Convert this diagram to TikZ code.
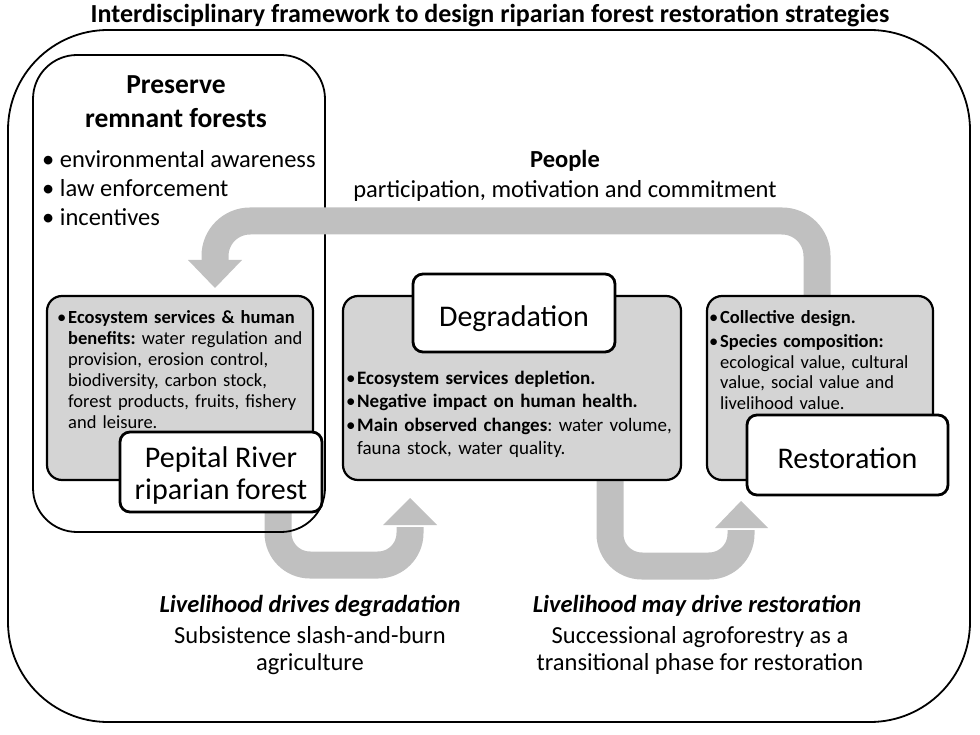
\documentclass[tikz,border=0pt]{standalone}
\usepackage{fontspec}
\setmainfont{Carlito}
\frenchspacing
\definecolor{boxgrau}{RGB}{212,212,212}
\definecolor{pfeilgrau}{RGB}{192,192,192}
\tikzset{
	rahmen/.style={draw, line width=1.8pt, rounded corners=#1, inner sep=0pt},
	grau/.style={draw, line width=2.2pt, fill=boxgrau, rounded corners=15pt, inner sep=0pt},
	titel/.style={draw, line width=2.8pt, fill=white, rounded corners=10pt, inner sep=0pt, align=center, font=\fontsize{30}{32}\selectfont},
	pfeil/.style={draw=pfeilgrau, line width=27pt, rounded corners=#1},
	spitze/.style={fill=pfeilgrau},
	liste/.style={anchor=north west, inner sep=0pt, font=\fontsize{18.5}{21}\selectfont},
	gross/.style={align=center, inner sep=0pt, font=\fontsize{24.5}{29}\selectfont}
}
% Aufzaehlungspunkt: Punkt links, Text als Block daneben
\newcommand{\punkt}[1]{\noindent\makebox[11pt][l]{\textbullet}\parbox[t]{\dimexpr\hsize-11pt}{\raggedright #1}\par}
\newcommand{\zeile}{\hfil\break}

\begin{document}
\begin{tikzpicture}[x=1pt, y=-1pt]
	\useasboundingbox (0,0) rectangle (980,735);
	
	% Ueberschrift und aeusserer Rahmen
	\node[font=\bfseries\fontsize{26}{30}\selectfont, inner sep=0pt] (kopf) at (490,16) {Interdisciplinary framework to design riparian forest restoration strategies};
	\node[rahmen=100pt, minimum width=962pt, minimum height=692pt] (aussen) at (489,376) {};
	
	% Pfeile unten (Lebensunterhalt)
	\coordinate (a1) at (278,500);
	\coordinate (a2) at (278,565);
	\coordinate (a3) at (410,565);
	\coordinate (a4) at (410,527);
	\draw[pfeil=32pt] (a1) -- (a2) -- (a3) -- (a4);
	\fill[spitze] (383,525) -- (437,525) -- (410,498) -- cycle;
	\coordinate (b1) at (610,475);
	\coordinate (b2) at (610,566);
	\coordinate (b3) at (741,566);
	\coordinate (b4) at (741,530);
	\draw[pfeil=32pt] (b1) -- (b2) -- (b3) -- (b4);
	\fill[spitze] (715,528) -- (768,528) -- (741,501) -- cycle;
	
	% Restwaelder erhalten
	\node[rahmen=44pt, minimum width=292pt, minimum height=477pt] (erhalt) at (179,293.5) {};
	\node[gross, font=\bfseries\fontsize{27.5}{34}\selectfont] (erhalttext) at (176,102) {Preserve\\remnant forests};
	\node[gross, align=left, anchor=west] (massnahmen) at (42,188) {\textbullet\ environmental awareness\\\textbullet\ law enforcement\\\textbullet\ incentives};
	
	% Menschen: Pfeil oben
	\node[gross, font=\bfseries\fontsize{24.5}{29}\selectfont] (menschen) at (565,161) {People};
	\node[gross] (beteiligung) at (565,191) {participation, motivation and commitment};
	\coordinate (c1) at (817,300);
	\coordinate (c2) at (817,221);
	\coordinate (c3) at (215,221);
	\coordinate (c4) at (215,262);
	\draw[pfeil=35pt] (c1) -- (c2) -- (c3) -- (c4);
	\fill[spitze] (188,260) -- (242,260) -- (215,288) -- cycle;
	
	% graue Kaesten
	\foreach \name/\x/\w in {oeko/180/266, abbau/512/338, wieder/820/226} {
		\node[grau, minimum width=\w pt, minimum height=184pt] (\name) at (\x,388) {};
	}
	
	% Texte in den Kaesten
	\node[liste, text width=255pt] (oekotext) at (57,310) {\punkt{\textbf{Ecosystem services \& human}\zeile\textbf{benefits:} water regulation and\zeile provision, erosion control,\zeile biodiversity, carbon stock,\zeile forest products, fruits, fishery\zeile and leisure.}};
	\node[liste, text width=330pt, font=\fontsize{19}{23.3}\selectfont] (abbautext) at (346,371) {\punkt{\textbf{Ecosystem services depletion.}}\punkt{\textbf{Negative impact on human health.}}\punkt{\textbf{Main observed changes}: water volume,\zeile fauna stock, water quality.}};
	\node[liste, text width=225pt, font=\fontsize{18.5}{20.5}\selectfont] (wiedertext) at (709,310) {\punkt{\textbf{Collective design.}}\vspace{4pt}\punkt{\textbf{Species composition:}\zeile ecological value, cultural\zeile value, social value and\zeile livelihood value.}};
	
	% weisse Titelkaesten
	\node[titel, minimum width=202pt, minimum height=80pt, text height=60pt] (pepital) at (221,472) {Pepital River\\riparian forest};
	\node[titel, minimum width=202pt, minimum height=78pt, text height=27pt, text depth=0pt] (degradation) at (514,313) {Degradation};
	\node[titel, minimum width=201pt, minimum height=80pt, text height=26pt, text depth=0pt] (restoration) at (847.5,455) {Restoration};
	
	% Beschriftung unten
	\node[gross, font=\bfseries\itshape\fontsize{24.5}{29}\selectfont] (treiber1) at (310,606) {Livelihood drives degradation};
	\node[gross, font=\fontsize{24.5}{27.5}\selectfont] (brandrodung) at (310,650.5) {Subsistence slash-and-burn\\agriculture};
	\node[gross, font=\bfseries\itshape\fontsize{24.5}{29}\selectfont] (treiber2) at (697,606) {Livelihood may drive restoration};
	\node[gross, font=\fontsize{24.5}{27.5}\selectfont] (agroforst) at (700,650.5) {Successional agroforestry as a\\transitional phase for restoration};
\end{tikzpicture}
\end{document}
